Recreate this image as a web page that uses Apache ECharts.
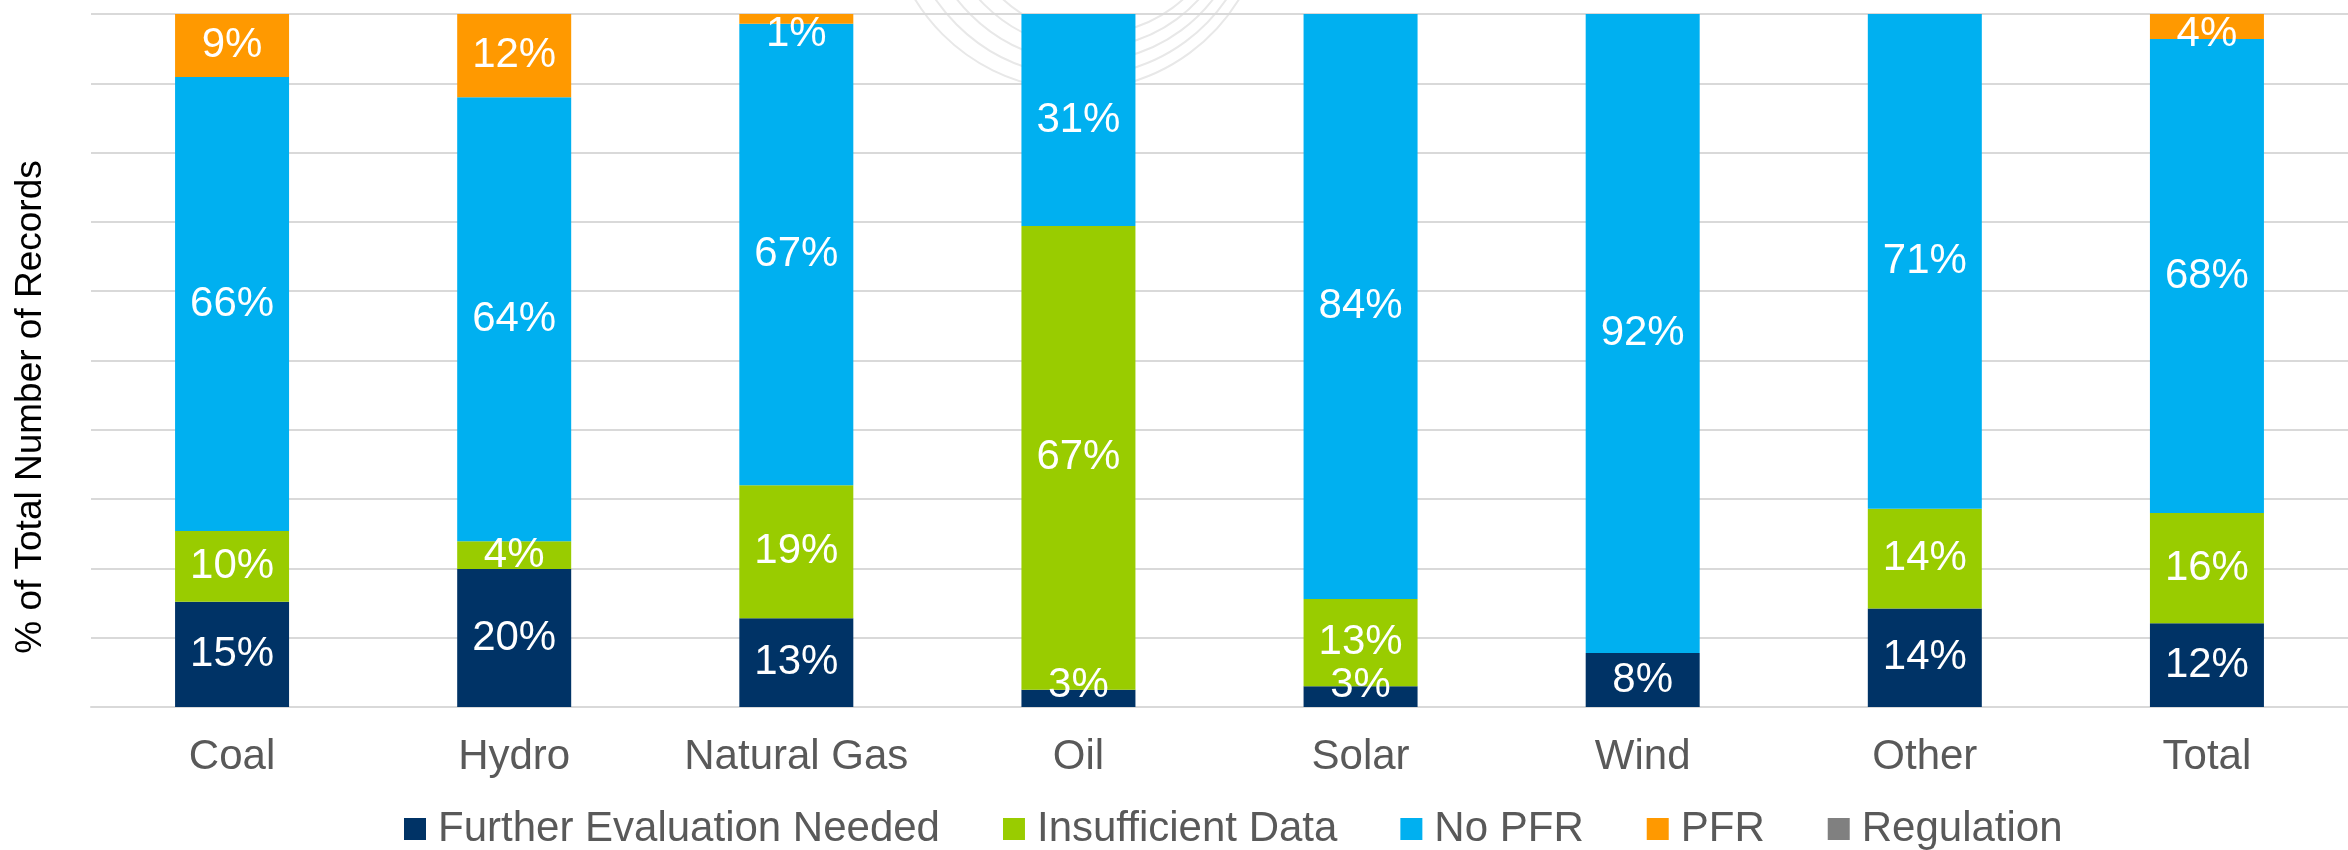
<!DOCTYPE html>
<html>
<head>
<meta charset="utf-8">
<title>PFR records by fuel type</title>
<script src="https://cdn.jsdelivr.net/npm/echarts@6/dist/echarts.min.js"></script>
<style>
  html, body { margin: 0; padding: 0; background: #fff; }
  #main { width: 2348px; height: 850px; }
</style>
</head>
<body>
<div id="main"></div>
<script>
// categories and stacked shares (% of total records)
var categories = ['Coal', 'Hydro', 'Natural Gas', 'Oil', 'Solar', 'Wind', 'Other', 'Total'];
var seriesNames = ['Further Evaluation Needed', 'Insufficient Data', 'No PFR', 'PFR', 'Regulation'];
var furtherEval = [15.2, 19.9, 12.8, 2.5, 3.0, 7.8, 14.2, 12.1];
var insufficient = [10.2, 4.0, 19.2, 66.9, 12.6, 0, 14.4, 15.9];
var noPfr = [65.5, 64.1, 66.6, 30.6, 84.4, 92.2, 71.4, 68.4];
var pfr = [9.1, 12.0, 1.4, 0, 0, 0, 0, 3.6];
var regulation = [0, 0, 0, 0, 0, 0, 0, 0];
var colors = ['#003366', '#99cc00', '#00b0f0', '#ff9900', '#808080'];

var FONT = "'Liberation Sans', Arial, sans-serif";
var gridTop = 14, gridBottom = 143;

var myChart = echarts.init(document.getElementById('main'));

// keep data labels inside the plot area (like the original)
function clampLabel(params) {
    var r = params.labelRect;
    var cy = r.y + r.height / 2;
    var minY = gridTop + 20;
    var maxY = 850 - gridBottom - 22;
    if (cy < minY) return { dy: minY - cy };
    if (cy > maxY) return { dy: maxY - cy };
    return {};
}

function makeSeries(name, data, idx) {
    return {
        name: name,
        type: 'bar',
        stack: 'all',
        barWidth: 114,
        data: data,
        itemStyle: { color: colors[idx] },
        label: {
            show: true,
            position: 'inside',
            color: '#fff',
            fontFamily: FONT,
            fontSize: 42,
            formatter: function (p) {
                return p.value > 0 ? Math.round(p.value) + '%' : '';
            }
        },
        labelLayout: clampLabel
    };
}

// faint watermark arcs behind the plot
var arcs = [];
[190, 176, 162, 148, 134].forEach(function (r, i) {
    arcs.push({
        type: 'arc',
        z: -10,
        silent: true,
        shape: { cx: 1077 + i * 4, cy: -100, r: r, startAngle: 0.15, endAngle: Math.PI - 0.15 },
        style: { stroke: '#e8e8e8', fill: null, lineWidth: 2 }
    });
});

myChart.setOption({
    animation: false,
    color: colors,
    textStyle: { fontFamily: FONT },
    grid: {
        left: 91,
        top: gridTop,
        width: 2271,
        bottom: gridBottom
    },
    legend: {
        data: seriesNames,
        left: 404,
        top: 808,
        padding: 0,
        icon: 'rect',
        itemWidth: 22,
        itemHeight: 22,
        itemGap: 63,
        textStyle: {
            color: '#595959',
            fontFamily: FONT,
            fontSize: 42,
            padding: [0, 0, 0, 7]
        }
    },
    xAxis: {
        type: 'category',
        data: categories,
        axisTick: { show: false },
        axisLine: { lineStyle: { color: '#d9d9d9', width: 2 } },
        axisLabel: {
            interval: 0,
            color: '#595959',
            fontFamily: FONT,
            fontSize: 42,
            margin: 29
        }
    },
    yAxis: {
        type: 'value',
        min: 0,
        max: 100,
        interval: 10,
        axisLabel: { show: false },
        axisLine: { show: false },
        axisTick: { show: false },
        splitLine: { lineStyle: { color: '#d9d9d9', width: 2 } }
    },
    graphic: arcs.concat([
        {
            type: 'text',
            x: 31,
            y: 407,
            rotation: Math.PI / 2,
            style: {
                text: '% of Total Number of Records',
                font: '37px ' + FONT,
                fill: '#000',
                textAlign: 'center',
                textVerticalAlign: 'middle'
            }
        }
    ]),
    series: [
        makeSeries(seriesNames[0], furtherEval, 0),
        makeSeries(seriesNames[1], insufficient, 1),
        makeSeries(seriesNames[2], noPfr, 2),
        makeSeries(seriesNames[3], pfr, 3),
        makeSeries(seriesNames[4], regulation, 4)
    ]
});
</script>
</body>
</html>
